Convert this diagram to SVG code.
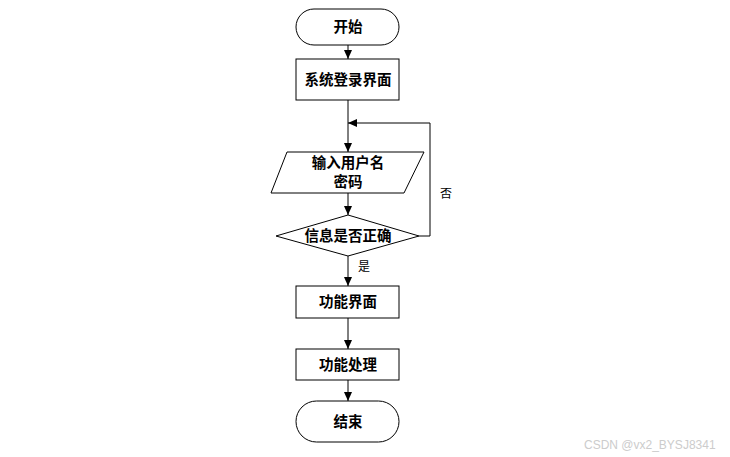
<svg xmlns="http://www.w3.org/2000/svg" width="730" height="457" viewBox="0 0 730 457">
<style>
.s{fill:#fff;stroke:#000;stroke-width:1}
.t{font-family:"Noto Sans CJK SC","Liberation Sans",sans-serif;font-size:14.5px;font-weight:bold;text-anchor:middle;fill:#000}
.l{font-family:"Noto Sans CJK SC","Liberation Sans",sans-serif;font-size:12px;fill:#000}
.c{fill:none;stroke:#000;stroke-width:1}
</style>
<defs>
<marker id="a" markerWidth="10" markerHeight="10" refX="9" refY="5" orient="auto" markerUnits="userSpaceOnUse">
<path d="M0,1 L9,5 L0,9 Z" fill="#000"/>
</marker>
</defs>
<rect width="730" height="457" fill="#fff"/>
<g id="connectors">
<line class="c" x1="348" y1="45" x2="348" y2="59" marker-end="url(#a)"/>
<line class="c" x1="348" y1="100" x2="348" y2="152" marker-end="url(#a)"/>
<line class="c" x1="348" y1="193" x2="348" y2="215" marker-end="url(#a)"/>
<polyline class="c" points="419,236 430,236 430,123 348,123" marker-end="url(#a)"/>
<line class="c" x1="348" y1="256" x2="348" y2="286" marker-end="url(#a)"/>
<line class="c" x1="348" y1="318" x2="348" y2="349" marker-end="url(#a)"/>
<line class="c" x1="348" y1="380" x2="348" y2="401" marker-end="url(#a)"/>
<text class="l" x="440" y="198">否</text>
<text class="l" x="358" y="271">是</text>
</g>
<g id="start">
<rect class="s" x="296" y="9" width="103" height="36" rx="18"/>
<text class="t" x="348" y="32">开始</text>
</g>
<g id="login">
<rect class="s" x="296" y="59" width="103" height="41"/>
<text class="t" x="348" y="85">系统登录界面</text>
</g>
<g id="input">
<polygon class="s" points="287,152 424,152 404,193 271,193"/>
<text class="t" x="348" y="168">输入用户名</text>
<text class="t" x="348" y="187">密码</text>
</g>
<g id="check">
<polygon class="s" points="348,215 419,236 348,256 276,236"/>
<text class="t" x="348" y="241">信息是否正确</text>
</g>
<g id="func">
<rect class="s" x="296" y="286" width="103" height="32"/>
<text class="t" x="348" y="307">功能界面</text>
</g>
<g id="proc">
<rect class="s" x="296" y="349" width="103" height="31"/>
<text class="t" x="348" y="370">功能处理</text>
</g>
<g id="end">
<rect class="s" x="296" y="401" width="103" height="41" rx="20.5"/>
<text class="t" x="348" y="427">结束</text>
</g>
<text x="584" y="449" style="font-family:'Liberation Sans',sans-serif;font-size:12px;fill:#ccc">CSDN @vx2_BYSJ8341</text>
</svg>
